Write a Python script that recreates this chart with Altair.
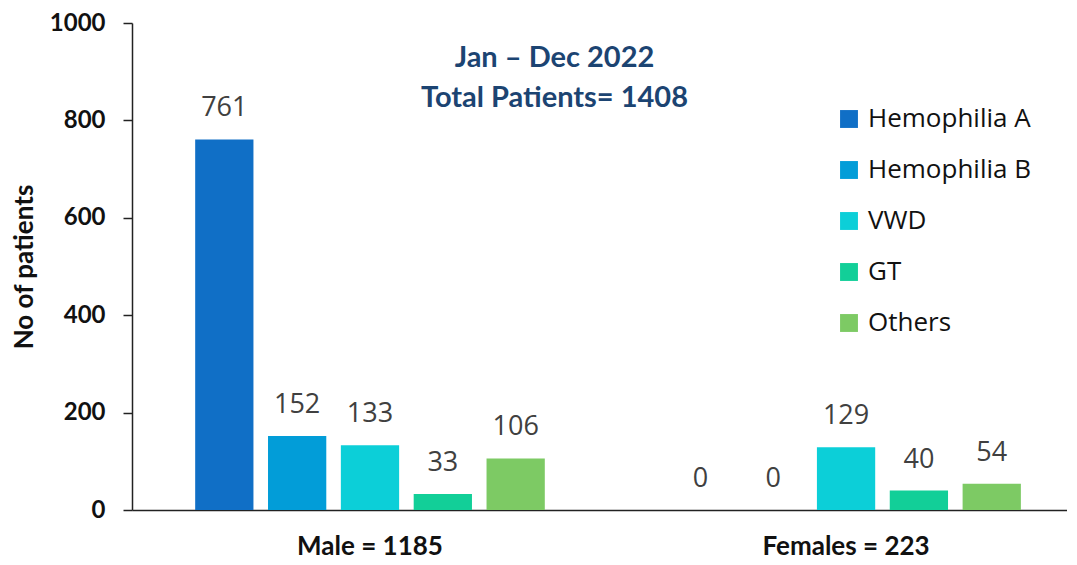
import altair as alt
import pandas as pd

groups = ["Male = 1185", "Females = 223"]
diseases = ["Hemophilia A", "Hemophilia B", "VWD", "GT", "Others"]
male_vals = [761, 152, 133, 33, 106]
female_vals = [0, 0, 129, 40, 54]
colors = ["#106FC6", "#029DD8", "#0CCFD8", "#12CF98", "#7DCA64"]
y_ticks = [0, 200, 400, 600, 800, 1000]
title_lines = ["Jan \u2013 Dec 2022", "Total Patients= 1408"]

rows = []
for g, vals in zip(groups, [male_vals, female_vals]):
    for d, v in zip(diseases, vals):
        rows.append({"group": g, "disease": d, "value": v})
df = pd.DataFrame(rows)

x_enc = alt.X("group:N", sort=groups,
              scale=alt.Scale(paddingInner=0.235, paddingOuter=0.0995, align=0.59),
              axis=alt.Axis(title=None, labelAngle=0, labelFont="Lato",
                            labelFontWeight="bold", labelFontSize=26,
                            labelColor="#111111", labelPadding=23,
                            ticks=False, domainColor="#222222", domainWidth=1.5))
xo_enc = alt.XOffset("disease:N", sort=diseases,
                     scale=alt.Scale(paddingInner=0.2, paddingOuter=0.1))
y_enc = alt.Y("value:Q", scale=alt.Scale(domain=[0, 1000]),
              axis=alt.Axis(title="No of patients", values=y_ticks, grid=False, format="d",
                            titleFont="Lato", titleFontSize=26, titleFontWeight="bold",
                            titleColor="#111111", titlePadding=12,
                            labelFont="Lato", labelFontWeight="bold", labelFontSize=24,
                            labelColor="#111111", labelPadding=18,
                            tickSize=9, tickColor="#222222", tickWidth=1.5,
                            domainColor="#222222", domainWidth=1.5))

color_enc = alt.Color("disease:N", sort=diseases,
                      scale=alt.Scale(domain=diseases, range=colors),
                      legend=alt.Legend(title=None, orient="none", legendX=704, legendY=83,
                                        symbolType="square", symbolSize=320,
                                        symbolStrokeWidth=0, symbolOpacity=1,
                                        labelFont="Open Sans", labelFontSize=26,
                                        labelColor="#111111", rowPadding=25,
                                        labelOffset=6, labelLimit=400))

bars = alt.Chart(df).mark_bar().encode(x=x_enc, xOffset=xo_enc, y=y_enc, color=color_enc)

labels = alt.Chart(df).mark_text(dy=-31, font="Open Sans", fontSize=27,
                                 color="#404040").encode(
    x=alt.X("group:N", sort=groups), xOffset=alt.XOffset("disease:N", sort=diseases),
    y="value:Q", text="value:Q")

chart = alt.layer(bars, labels).properties(
    width=935, height=487,
    title=alt.TitleParams(title_lines, anchor="middle", font="Lato", fontSize=29,
                          fontWeight="bold", color="#1C4472", dx=-45, dy=106,
                          lineHeight=40),
    autosize=alt.AutoSizeParams(type="none"),
    padding={"left": 124, "top": 15, "right": 0, "bottom": 52},
).configure_view(stroke=None)

chart.save("out.html", embed_options={"renderer": "svg", "actions": False})
